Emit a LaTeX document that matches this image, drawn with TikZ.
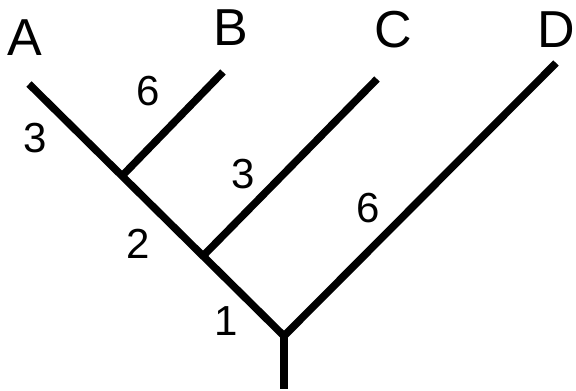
\documentclass[tikz,border=0pt]{standalone}
\usepackage{fontspec}
\setmainfont{Liberation Sans}
\begin{document}
\begin{tikzpicture}[x=1pt,y=-1pt,
  branch/.style={line width=7.5pt,line cap=butt},
  taxon/.style={anchor=base,inner sep=0pt,font=\fontsize{52}{52}\selectfont},
  blen/.style={anchor=base,inner sep=0pt,font=\fontsize{42}{42}\selectfont}]
\useasboundingbox (0,0) rectangle (576,391);
% tips, internal nodes and root
\coordinate (tA) at (29,84);
\coordinate (tB) at (223,72);
\coordinate (tC) at (377,79);
\coordinate (tD) at (556,63);
\coordinate (nAB) at (122,176);
\coordinate (nABC) at (203,256);
\coordinate (root) at (284,336);
\coordinate (base) at (284,389);
% branches
\draw[branch] (tA) -- (root);
\draw[branch] (nAB) -- (tB);
\draw[branch] (nABC) -- (tC);
\draw[branch] (root) -- (tD);
\draw[branch] (root) -- (base);
% taxon names
\node[taxon] (lA) at (25,55) {A};
\node[taxon] (lB) at (231,45) {B};
\node[taxon] (lC) at (393,47) {C};
\node[taxon] (lD) at (556,47) {D};
% branch lengths
\node[blen] (bA) at (35,152) {3};
\node[blen] (bB) at (148,105) {6};
\node[blen] (bC) at (243,188) {3};
\node[blen] (bAB) at (138,258) {2};
\node[blen] (bABC) at (226,335) {1};
\node[blen] (bD) at (368,222) {6};
\end{tikzpicture}
\end{document}
